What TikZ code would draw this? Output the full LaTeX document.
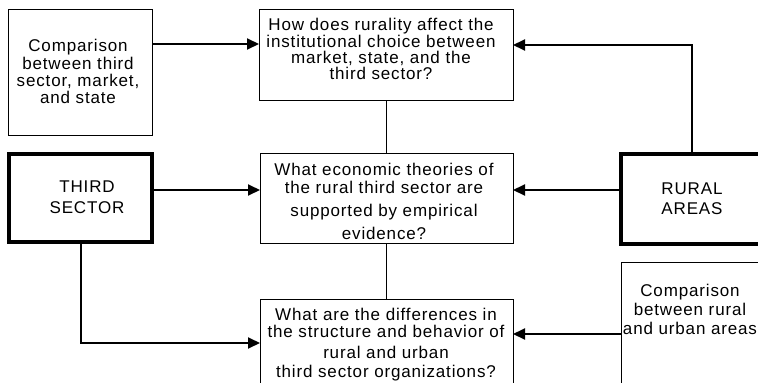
\documentclass[tikz,border=0pt]{standalone}
\usepackage{fontspec}
\setmainfont{Liberation Sans}[LetterSpace=5]
\usetikzlibrary{arrows.meta}
\newcommand\myfs[1]{\fontsize{17}{#1}\selectfont}
\begin{document}
\begin{tikzpicture}[x=1pt,y=-1pt,
  thinbox/.style={draw=black,line width=1pt,rectangle,inner sep=0pt,outer sep=0pt},
  thickbox/.style={draw=black,line width=4pt,rectangle,inner sep=0pt,outer sep=0pt},
  txt/.style={align=center,inner sep=0pt,outer sep=0pt,text=black,anchor=north},
  arr/.style={line width=2pt,-{Triangle[length=12pt,width=11pt]}},
  thin/.style={line width=1pt}]
\useasboundingbox (0,0) rectangle (758,383);
\clip (0,0) rectangle (758,383);
\fill[white] (0,0) rectangle (758,383);
% boxes
\node[thinbox,minimum width=144pt,minimum height=126pt] (cmpa) at (80,72) {};
\node[thinbox,minimum width=254pt,minimum height=91pt] (qa) at (386,54.5) {};
\node[thinbox,minimum width=253pt,minimum height=90pt] (qb) at (386.5,198.5) {};
\node[thinbox,minimum width=253pt,minimum height=101pt] (qc) at (386.5,349.5) {};
\node[thickbox,minimum width=143pt,minimum height=88pt] (ts) at (80.5,198) {};
\node[thickbox,minimum width=154pt,minimum height=89.5pt] (ra) at (698,198.75) {};
\node[thinbox,minimum width=154pt,minimum height=138pt] (cmpb) at (698,331) {};
% texts
\node[txt,font=\myfs{17.3}] (tcmpa) at (78,39.6) {Comparison\\between third\\sector, market,\\and state};
\node[txt,font=\myfs{15.7}] (tqa) at (381,18.6) {How does rurality affect the\\institutional choice between\\market, state, and the\\third sector?};
\node[txt,font=\myfs{18}] (tqb) at (384,163.6) {What economic theories of\\the rural third sector are\\[5pt]supported by empirical\\[5pt]evidence?};
\node[txt,font=\myfs{17}] (tqc) at (386,308.6) {What are the differences in\\the structure and behavior of\\[4pt]rural and urban\\[2pt]third sector organizations?};
\node[txt,font=\myfs{21}] (tts) at (87,180.8) {THIRD\\SECTOR};
\node[txt,font=\myfs{20}] (tra) at (692,182.8) {RURAL\\AREAS};
\node[txt,font=\myfs{19}] (tcmpb) at (690,284.6) {Comparison\\between rural\\and urban areas};
% helper coordinates
\coordinate (ya) at (0,44);
\coordinate (yb) at (0,45);
\coordinate (yc) at (0,190);
\coordinate (yd) at (0,343);
\coordinate (ye) at (0,334);
\coordinate (xa) at (692,0);
\coordinate (xb) at (81,0);
% connectors
\draw[arr] (cmpa.east |- ya) -- (qa.west |- ya);
\draw[arr] (xa |- ra.north) |- (qa.east |- yb);
\draw[arr] (ts.east |- yc) -- (qb.west |- yc);
\draw[arr] (ra.west |- yc) -- (qb.east |- yc);
\draw[arr] (xb |- ts.south) |- (qc.west |- yd);
\draw[arr] (cmpb.west |- ye) -- (qc.east |- ye);
\draw[thin] (qa.south) -- (qa.south |- qb.north);
\draw[thin] (qb.south) -- (qb.south |- qc.north);
\end{tikzpicture}
\end{document}
